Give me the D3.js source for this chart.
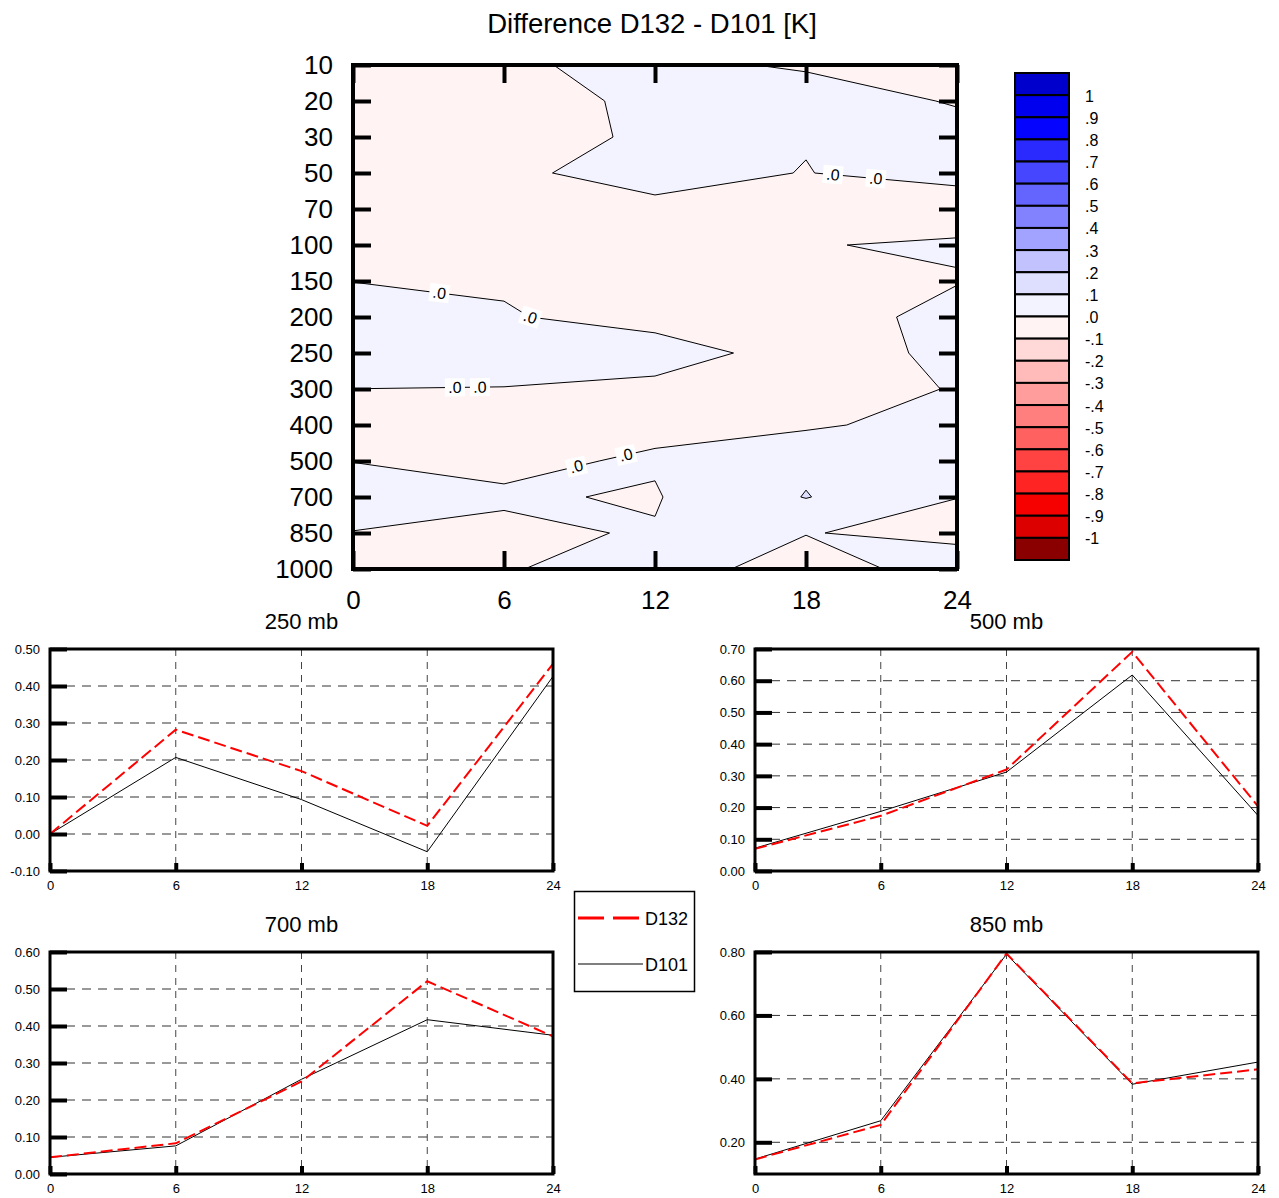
<!DOCTYPE html>
<html><head><meta charset="utf-8">
<script src="https://cdn.jsdelivr.net/npm/d3@7"></script>
<style>
body{margin:0;background:#fff;}
svg{display:block;font-family:"Liberation Sans",Arial,Helvetica,sans-serif;}
</style>
</head><body>
<svg id="chart" width="1279" height="1198"></svg>
<script>
// ---------------- DATA ----------------
const hours = [0, 6, 12, 18, 24];
const levels = [10, 20, 30, 50, 70, 100, 150, 200, 250, 300, 400, 500, 700, 850, 1000];
// temperature difference D132 - D101 [K], rows = levels, columns = hours
const diff = [
  [-0.0300, -0.0177,  0.0361, -0.0177, -0.0200],
  [-0.0300, -0.0600,  0.0300,  0.0755, -0.0123],
  [-0.0400, -0.0779,  0.0300,  0.0033,  0.0600],
  [-0.0400, -0.0097,  0.0205, -0.0019,  0.0313],
  [-0.0400, -0.0400, -0.0131, -0.0300, -0.0557],
  [-0.0400, -0.0400, -0.0300, -0.0052,  0.0139],
  [-0.0016, -0.0141, -0.0300, -0.0400, -0.0082],
  [ 0.0500,  0.0111, -0.0543, -0.0900,  0.0600],
  [ 0.0500,  0.0400,  0.0691, -0.0638,  0.0300],
  [-0.0003, -0.0026, -0.0389, -0.0400,  0.0050],
  [-0.0300, -0.0300, -0.0132, -0.0148,  0.0400],
  [-0.0012, -0.0121,  0.0071,  0.0839,  0.0500],
  [ 0.0300,  0.0069, -0.0058,  0.1038,  0.0008],
  [-0.0019, -0.0116,  0.0050,  0.0026, -0.0180],
  [-0.0300, -0.0065,  0.0410, -0.0400,  0.0383]
];
const colorLabels = ["1", ".9", ".8", ".7", ".6", ".5", ".4", ".3", ".2", ".1", ".0", "-.1", "-.2", "-.3", "-.4", "-.5", "-.6", "-.7", "-.8", "-.9", "-1"];
const colorFills = ["#0000cd", "#0000ee", "#0404ff", "#2a2aff", "#4646ff", "#6464ff", "#8282ff", "#a2a2ff", "#c2c2ff", "#dedeff", "#f3f3ff",
                    "#fff3f3", "#ffd8d8", "#ffbaba", "#ff9c9c", "#ff7e7e", "#ff6060", "#ff4242", "#ff2424", "#f60000", "#dc0000", "#8a0000"];
// contour label anchors: [hour, level index]
const contourLabelAnchors = [[19.05, 3.09], [20.77, 3.18], [3.42, 6.37], [7.02, 7.04], [4.04, 8.99], [5.03, 8.99], [8.88, 11.17], [10.86, 10.86]];

// line panels
const seriesNames = ["D132", "D101"];
const p250_D132 = [0.000, 0.282, 0.170, 0.022, 0.460];
const p250_D101 = [0.000, 0.207, 0.093, -0.048, 0.426];
const p500_D132 = [0.070, 0.174, 0.320, 0.691, 0.204];
const p500_D101 = [0.072, 0.188, 0.312, 0.618, 0.175];
const p700_D132 = [0.045, 0.083, 0.250, 0.521, 0.372];
const p700_D101 = [0.045, 0.076, 0.256, 0.417, 0.375];
const p850_D132 = [0.146, 0.255, 0.795, 0.386, 0.430];
const p850_D101 = [0.147, 0.268, 0.793, 0.383, 0.453];
const ticks250 = [-0.1, 0, 0.1, 0.2, 0.3, 0.4, 0.5];
const ticks500 = [0, 0.1, 0.2, 0.3, 0.4, 0.5, 0.6, 0.7];
const ticks700 = [0, 0.1, 0.2, 0.3, 0.4, 0.5, 0.6];
const ticks850 = [0.2, 0.4, 0.6, 0.8];

// ---------------- DRAW ----------------
const svg = d3.select('#chart');
svg.append('rect').attr('width', 1279).attr('height', 1198).attr('fill', '#fff');

svg.append('text').attr('x', 652).attr('y', 23).attr('text-anchor', 'middle')
  .attr('dominant-baseline', 'central').attr('font-size', 27.5).text('Difference D132 - D101 [K]');

// ---- contour plot ----
const L = 353, R = 957, T = 65, B = 569;
const xH = d3.scaleLinear().domain([hours[0], hours[hours.length - 1]]).range([L, R]);
const yI = d3.scaleLinear().domain([0, levels.length - 1]).range([T, B]);
const yLev = d3.scalePoint().domain(levels).range([T, B]);
const hourOfIdx = d3.scaleLinear().domain([0, hours.length - 1]).range([hours[0], hours[hours.length - 1]]);

const nx = hours.length, ny = levels.length;
const negVals = [], posVals = [];
diff.forEach(row => row.forEach(v => { negVals.push(-v); posVals.push(v); }));
const cgen = d3.contours().size([nx, ny]);
const proj = d3.geoTransform({
  point(x, y) { this.stream.point(xH(hourOfIdx(x - 0.5)), yI(y - 0.5)); }
});
const gpath = d3.geoPath(proj);

svg.append('clipPath').attr('id', 'cclip').append('rect')
  .attr('x', L).attr('y', T).attr('width', R - L).attr('height', B - T);
const cg = svg.append('g').attr('clip-path', 'url(#cclip)');
// base class (0 .. 0.1)
cg.append('rect').attr('x', L).attr('y', T).attr('width', R - L).attr('height', B - T).attr('fill', colorFills[10]);
// negative class (-0.1 .. 0)
const pinkPath = cg.append('path').attr('d', gpath(cgen.contour(negVals, 0)))
  .attr('fill', colorFills[11]).attr('stroke', '#000').attr('stroke-width', 1);
// 0.1 .. 0.2 class
cg.append('path').attr('d', gpath(cgen.contour(posVals, 0.1)))
  .attr('fill', colorFills[9]).attr('stroke', '#000').attr('stroke-width', 1);

// contour labels
const labelsG = cg.append('g');
const pn = pinkPath.node();
const total = pn.getTotalLength();
const samples = [];
for (let l = 0; l <= total; l += 1) { const p = pn.getPointAtLength(l); samples.push({ l, x: p.x, y: p.y }); }
contourLabelAnchors.forEach(([h, li]) => {
  const ax = xH(h), ay = yI(li);
  let best = null, bd = Infinity;
  samples.forEach(s => { const d = (s.x - ax) ** 2 + (s.y - ay) ** 2; if (d < bd) { bd = d; best = s; } });
  const p1 = pn.getPointAtLength(Math.max(0, best.l - 5)), p2 = pn.getPointAtLength(Math.min(total, best.l + 5));
  let ang = Math.atan2(p2.y - p1.y, p2.x - p1.x) * 180 / Math.PI;
  if (ang > 90) ang -= 180; if (ang < -90) ang += 180;
  const g = labelsG.append('g').attr('transform', `translate(${best.x},${best.y}) rotate(${ang})`);
  g.append('rect').attr('x', -10).attr('y', -9).attr('width', 20).attr('height', 18).attr('fill', '#fff');
  g.append('text').attr('text-anchor', 'middle').attr('dominant-baseline', 'central')
    .attr('font-size', 16).text('.0');
});

// axes of contour plot
function styleAxis(sel, w) {
  sel.select('.domain').remove();
  sel.selectAll('.tick line').attr('stroke', '#000').attr('stroke-width', w);
  sel.selectAll('.tick text').attr('fill', '#000').attr('font-family', null);
}
const ax1 = svg.append('g').attr('transform', `translate(${L},0)`)
  .call(d3.axisLeft(yLev).tickSizeInner(-18).tickSizeOuter(0).tickPadding(20));
styleAxis(ax1, 4); ax1.attr('font-size', 26);
const ax2 = svg.append('g').attr('transform', `translate(${R},0)`)
  .call(d3.axisRight(yLev).tickSizeInner(-18).tickSizeOuter(0).tickFormat(''));
styleAxis(ax2, 4);
const ax3 = svg.append('g').attr('transform', `translate(0,${B})`)
  .call(d3.axisBottom(xH).tickValues(hours).tickSizeInner(-18).tickSizeOuter(0).tickPadding(22));
styleAxis(ax3, 4); ax3.attr('font-size', 26);
const ax4 = svg.append('g').attr('transform', `translate(0,${T})`)
  .call(d3.axisTop(xH).tickValues(hours).tickSizeInner(-18).tickSizeOuter(0).tickFormat(''));
styleAxis(ax4, 4);
svg.append('rect').attr('x', L).attr('y', T).attr('width', R - L).attr('height', B - T)
  .attr('fill', 'none').attr('stroke', '#000').attr('stroke-width', 4);

// ---- colorbar ----
const cbX = 1015, cbW = 54;
const cbY = d3.scaleLinear().domain([0, colorFills.length]).range([73, 560]);
const cb = svg.append('g');
cb.selectAll('rect').data(colorFills).join('rect')
  .attr('x', cbX).attr('y', (d, i) => cbY(i)).attr('width', cbW).attr('height', (d, i) => cbY(i + 1) - cbY(i))
  .attr('fill', d => d).attr('stroke', '#000').attr('stroke-width', 2);
cb.selectAll('text').data(colorLabels).join('text')
  .attr('x', 1085).attr('y', (d, i) => cbY(i + 1) + 1).attr('dominant-baseline', 'central')
  .attr('font-size', 16).text(d => d);

// ---- line panels ----
const fmt = v => v.toFixed(2);
function panel(cfg) {
  const { x0, x1, y0, y1, domain, ticks, title, s132, s101 } = cfg;
  const x = d3.scaleLinear().domain([hours[0], hours[hours.length - 1]]).range([x0, x1]);
  const y = d3.scaleLinear().domain(domain).range([y1, y0]);
  const g = svg.append('g');
  g.append('text').attr('x', (x0 + x1) / 2).attr('y', y0 - 28).attr('text-anchor', 'middle')
    .attr('dominant-baseline', 'central').attr('font-size', 22).text(title);
  const inner = ticks.filter(t => t > domain[0] + 1e-9 && t < domain[1] - 1e-9);
  g.selectAll('line.hg').data(inner).join('line').attr('class', 'hg')
    .attr('x1', x0).attr('x2', x1).attr('y1', d => y(d)).attr('y2', d => y(d))
    .attr('stroke', '#333').attr('stroke-width', 1).attr('stroke-dasharray', '9,7');
  g.selectAll('line.vg').data(hours.slice(1, -1)).join('line').attr('class', 'vg')
    .attr('x1', d => x(d)).attr('x2', d => x(d)).attr('y1', y0).attr('y2', y1)
    .attr('stroke', '#444').attr('stroke-width', 1).attr('stroke-dasharray', '7,6');
  const line = d3.line().x((d, i) => x(hours[i])).y(d => y(d));
  g.append('path').attr('d', line(s101)).attr('fill', 'none').attr('stroke', '#000').attr('stroke-width', 1);
  g.append('path').attr('d', line(s132)).attr('fill', 'none').attr('stroke', '#ff0000')
    .attr('stroke-width', 2).attr('stroke-dasharray', '12,5');
  const ay = g.append('g').attr('transform', `translate(${x0},0)`)
    .call(d3.axisLeft(y).tickValues(ticks).tickFormat(fmt).tickSizeInner(-17).tickSizeOuter(0).tickPadding(10));
  styleAxis(ay, 4); ay.attr('font-size', 13);
  const axb = g.append('g').attr('transform', `translate(0,${y1})`)
    .call(d3.axisBottom(x).tickValues(hours).tickSizeInner(-8).tickSizeOuter(0).tickPadding(10));
  styleAxis(axb, 4); axb.attr('font-size', 13);
  g.append('rect').attr('x', x0).attr('y', y0).attr('width', x1 - x0).attr('height', y1 - y0)
    .attr('fill', 'none').attr('stroke', '#000').attr('stroke-width', 3);
}
panel({ x0: 50, x1: 553, y0: 649, y1: 871, domain: [-0.1, 0.5], ticks: ticks250, title: '250 mb', s132: p250_D132, s101: p250_D101 });
panel({ x0: 755, x1: 1258, y0: 649, y1: 871, domain: [0, 0.7], ticks: ticks500, title: '500 mb', s132: p500_D132, s101: p500_D101 });
panel({ x0: 50, x1: 553, y0: 952, y1: 1174, domain: [0, 0.6], ticks: ticks700, title: '700 mb', s132: p700_D132, s101: p700_D101 });
panel({ x0: 755, x1: 1258, y0: 952, y1: 1174, domain: [0.1, 0.8], ticks: ticks850, title: '850 mb', s132: p850_D132, s101: p850_D101 });

// ---- legend ----
const lg = svg.append('g');
lg.append('rect').attr('x', 574.5).attr('y', 891.5).attr('width', 120).attr('height', 100)
  .attr('fill', '#fff').attr('stroke', '#000').attr('stroke-width', 1.5);
const legStyles = [{ c: '#ff0000', w: 3, dash: '26,9', y: 918 }, { c: '#000', w: 1, dash: null, y: 964 }];
seriesNames.forEach((n, i) => {
  const s = legStyles[i];
  lg.append('line').attr('x1', 578).attr('x2', 643).attr('y1', s.y).attr('y2', s.y)
    .attr('stroke', s.c).attr('stroke-width', s.w).attr('stroke-dasharray', s.dash);
  lg.append('text').attr('x', 645).attr('y', s.y + 1).attr('dominant-baseline', 'central')
    .attr('font-size', 18).text(n);
});
</script>
</body></html>
